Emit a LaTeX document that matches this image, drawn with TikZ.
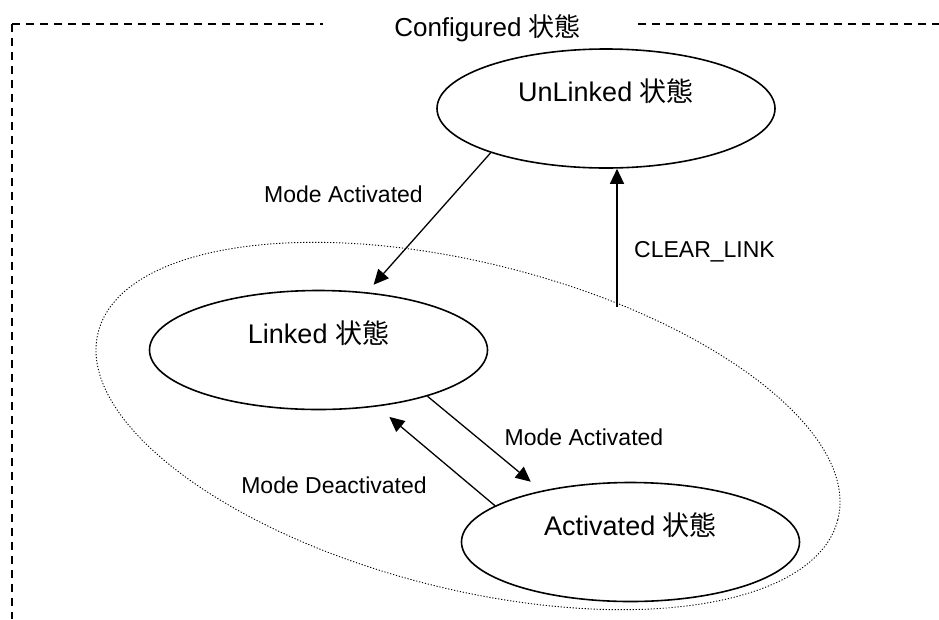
\documentclass[tikz,border=0pt]{standalone}
\usepackage{fontspec}
\setmainfont{Liberation Sans}
\newfontfamily\cjk{Noto Sans CJK JP}
\usetikzlibrary{shapes.geometric,arrows.meta,calc}

\begin{document}
\begin{tikzpicture}[x=1pt,y=-1pt,
  state/.style={ellipse, draw, line width=1.6pt, minimum width=338pt,
    minimum height=119pt, inner sep=0pt, text height=20pt, text depth=34pt,
    font=\fontsize{27}{27}\selectfont},
  trans/.style={line width=1.3pt, -{Triangle[length=15pt,width=14pt]}},
  lbl/.style={anchor=base, inner sep=0pt, font=\fontsize{23}{23}\selectfont},
  framedash/.style={line width=1.5pt, dash pattern=on 8pt off 6pt},
  group/.style={ellipse, draw, line width=0.9pt, dash pattern=on 1.2pt off 1.8pt,
    minimum width=763pt, minimum height=326pt, inner sep=0pt, rotate=-14.2}
]
\useasboundingbox (0,0) rectangle (939,619);

% composite state frame with its title
\node[anchor=base, inner sep=0pt, font=\fontsize{26}{26}\selectfont]
  (configured) at (487.5,36) {Configured {\cjk 状態}};
\coordinate (corner) at (12,24);
\draw[framedash] (corner) -- (323,24);
\draw[framedash] (corner) -- (12,619);
\draw[framedash] (638,24) -- (939,24);

% dotted grouping of the linked sub-states
\node[group] (linkgroup) at (468,426) {};

% states
\node[state] (unlinked)  at (606,108.5) {UnLinked {\cjk 状態}};
\node[state] (linked)    at (318.5,350) {Linked {\cjk 状態}};
\node[state] (activated) at (630.5,542) {Activated {\cjk 状態}};

% transitions
\draw[trans, shorten >=10pt] (unlinked.201.3) -- (linked.50);
\draw[trans, shorten >=14pt] (linked.337.4) -- (activated.150);
\draw[trans, shorten >=16pt] (activated.165.3) -- (linked.316.9);
\coordinate (clbase) at (617,306.5);
\draw[trans] (clbase) -- (clbase |- unlinked.south);

% transition labels
\node[lbl] (lblma1) at (343.5,202) {Mode Activated};
\node[lbl] (lblcl)  at (704.5,257) {CLEAR\_LINK};
\node[lbl] (lblma2) at (584,445)   {Mode Activated};
\node[lbl] (lblmd)  at (334,493)   {Mode Deactivated};
\end{tikzpicture}
\end{document}
